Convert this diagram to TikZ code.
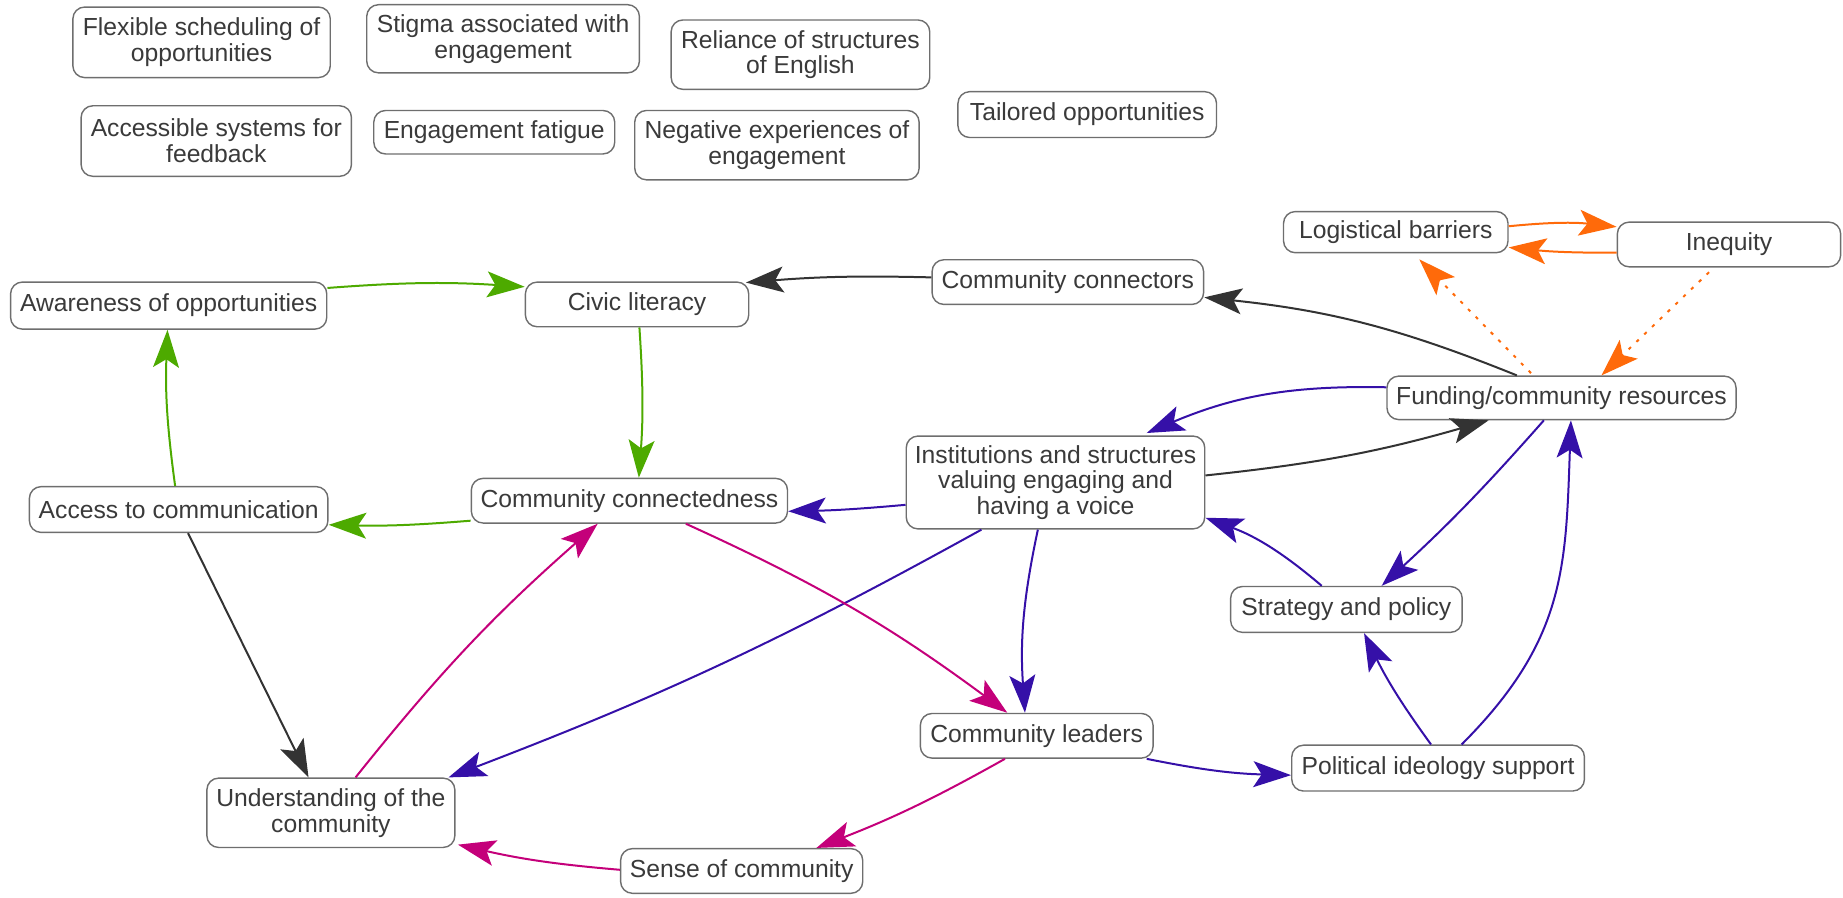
\documentclass[tikz,border=0pt]{standalone}
\usepackage{fontspec}
\setmainfont{Liberation Sans}
\usetikzlibrary{arrows.meta,calc}
\definecolor{boxline}{HTML}{6E6E6E}
\definecolor{textgray}{HTML}{3A3A3A}
\definecolor{darkline}{HTML}{333333}
\definecolor{greenline}{HTML}{4DAA00}
\definecolor{purpleline}{HTML}{3510A8}
\definecolor{magline}{HTML}{C4007A}
\definecolor{orangeline}{HTML}{FF6A0A}
\begin{document}
\begin{tikzpicture}[x=0.5pt,y=-0.5pt,
  box/.style={draw=boxline, fill=white, rounded corners=5pt, line width=0.6pt,
    align=center, inner sep=0pt, text=textgray,
    font=\fontsize{10.5}{11}\selectfont},
  link/.style={line width=0.85pt, -{Stealth[length=16pt,width=11pt,inset=3.5pt]}},
  dotlink/.style={link, dash pattern=on 1.4pt off 3.2pt}]
\useasboundingbox (0,0) rectangle (1568,764);

% unlinked factors along the top
\node[box, minimum width=109.5pt, minimum height=30pt] (flex) at (171.5,36) {Flexible scheduling of\\opportunities};
\node[box, minimum width=116pt, minimum height=29pt] (stigma) at (428,33) {Stigma associated with\\engagement};
\node[box, minimum width=110pt, minimum height=29.5pt] (reliance) at (681,46.5) {Reliance of structures\\of English};
\node[box, minimum width=115pt, minimum height=30pt] (feedback) at (184,120) {Accessible systems for\\feedback};
\node[box, minimum width=102.5pt, minimum height=18.5pt] (fatigue) at (420.5,112.5) {Engagement fatigue};
\node[box, minimum width=121pt, minimum height=29.5pt] (negative) at (661,123.5) {Negative experiences of\\engagement};
\node[box, minimum width=110pt, minimum height=19.5pt] (tailored) at (925,97.5) {Tailored opportunities};

% linked factors
\node[box, minimum width=95.5pt, minimum height=17.5pt] (logi) at (1187.5,197.5) {Logistical barriers};
\node[box, minimum width=95pt, minimum height=19pt] (ineq) at (1471,208) {Inequity};
\node[box, minimum width=115.5pt, minimum height=19pt] (conn) at (908.5,240) {Community connectors};
\node[box, minimum width=95pt, minimum height=19pt] (civic) at (542,259) {Civic literacy};
\node[box, minimum width=134.5pt, minimum height=20pt] (aware) at (143.5,260) {Awareness of opportunities};
\node[box, minimum width=148.5pt, minimum height=18.5pt] (fund) at (1328.5,338.5) {Funding/community resources};
\node[box, minimum width=127pt, minimum height=39.5pt] (inst) at (898,410.5) {Institutions and structures\\valuing engaging and\\having a voice};
\node[box, minimum width=134.5pt, minimum height=19pt] (conned) at (535.5,426) {Community connectedness};
\node[box, minimum width=127pt, minimum height=19.5pt] (accc) at (152,433.5) {Access to communication};
\node[box, minimum width=98.5pt, minimum height=19.5pt] (strat) at (1145.5,518.5) {Strategy and policy};
\node[box, minimum width=99pt, minimum height=19pt] (lead) at (882,626) {Community leaders};
\node[box, minimum width=124.5pt, minimum height=19.5pt] (pol) at (1223.5,653.5) {Political ideology support};
\node[box, minimum width=105.5pt, minimum height=29.5pt] (und) at (281.5,691.5) {Understanding of the\\community};
\node[box, minimum width=103pt, minimum height=19pt] (sense) at (631,741) {Sense of community};

% orange links
\draw[link, orangeline] ($(logi.east)+(0,-5)$) to[bend left=6] ($(ineq.west)+(0,-15)$);
\draw[link, orangeline] ($(ineq.west)+(0,7)$) to[bend left=3] ($(logi.east)+(0,13)$);
\draw[dotlink, orangeline] ($(fund.north)+(-26,-2)$) -- ($(logi.south)+(20,5)$);
\draw[dotlink, orangeline] ($(ineq.south)+(-17,4)$) -- ($(fund.north)+(34,0)$);

% dark links
\draw[link, darkline] ($(conn.west)+(0,-4)$) to[bend right=3] ($(civic.north east)+(-3,1)$);
\draw[link, darkline] ($(fund.north)+(-38,0)$) to[bend right=8] ($(conn.east)+(0,13)$);
\draw[link, darkline] ($(inst.east)+(0,-6)$) to[bend right=5] ($(fund.south)+(-62,0)$);
\draw[link, darkline] ($(accc.south)+(8,0)$) -- ($(und.north)+(-19,0)$);

% green links
\draw[link, greenline] ($(aware.east)+(0,-15)$) to[bend left=4] ($(civic.west)+(0,-15)$);
\draw[link, greenline] ($(civic.south)+(2,0)$) to[bend left=4] ($(conned.north)+(8,0)$);
\draw[link, greenline] ($(conned.west)+(0,17)$) to[bend left=3] ($(accc.east)+(0,13)$);
\draw[link, greenline] ($(accc.north)+(-3,0)$) to[bend left=5] ($(aware.south)+(-1,0)$);

% purple links
\draw[link, purpleline] ($(fund.west)+(0,-9)$) to[bend right=12] ($(inst.north east)+(-50,-2)$);
\draw[link, purpleline] ($(inst.west)+(0,19)$) to[bend left=2] ($(conned.east)+(0,9)$);
\draw[link, purpleline] ($(inst.south)+(-63,0)$) to[bend left=4] ($(und.north east)+(-6,0)$);
\draw[link, purpleline] ($(inst.south)+(-15,0)$) to[bend right=8] ($(lead.north)+(-10,0)$);
\draw[link, purpleline] ($(fund.south)+(-15,0)$) to[bend left=3] ($(strat.north)+(30,0)$);
\draw[link, purpleline] ($(strat.north)+(-21,0)$) to[bend right=10] ($(inst.east)+(0,30)$);
\draw[link, purpleline] ($(lead.south east)+(-6,0)$) to[bend right=5] ($(pol.west)+(0,6)$);
\draw[link, purpleline] ($(pol.north)+(-6,0)$) to[bend left=5] ($(strat.south)+(15,0)$);
\draw[link, purpleline] ($(pol.north)+(20,0)$) to[out=45,in=-92,looseness=1.1] ($(fund.south)+(8,0)$);

% magenta links
\draw[link, magline] ($(conned.south)+(48,0)$) to[bend left=6] ($(lead.north)+(-25,0)$);
\draw[link, magline] ($(und.north)+(21,0)$) to[bend left=5] ($(conned.south)+(-27,0)$);
\draw[link, magline] ($(lead.south)+(-27,0)$) to[bend left=4] ($(sense.north east)+(-40,0)$);
\draw[link, magline] ($(sense.west)+(0,-1)$) to[bend left=4] ($(und.south east)+(2,-3)$);
\end{tikzpicture}
\end{document}
